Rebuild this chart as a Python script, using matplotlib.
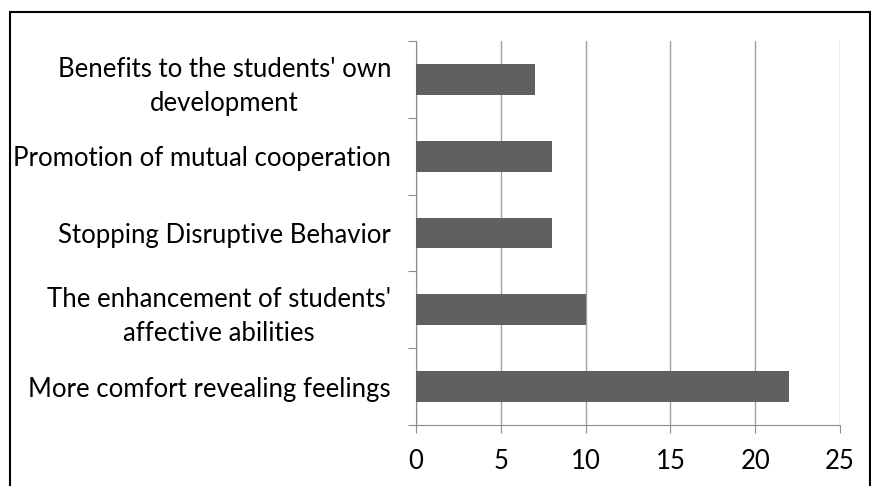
import matplotlib.pyplot as plt
from matplotlib.patches import Rectangle

categories = [
    "More comfort revealing feelings",
    "The enhancement of students'\naffective abilities",
    "Stopping Disruptive Behavior",
    "Promotion of mutual cooperation",
    "Benefits to the students' own\ndevelopment",
]
values = [22, 10, 8, 8, 7]
xticks = [0, 5, 10, 15, 20, 25]

plt.rcParams['font.family'] = ['Lato', 'DejaVu Sans']

fig = plt.figure(figsize=(8.71, 4.86), dpi=100)
ax = fig.add_axes([416 / 871, 61 / 486, 424 / 871, 384 / 486])

pos = range(len(categories))
ax.barh(pos, values, height=0.4, color='#606060', zorder=3)

ax.set_xlim(0, 25)
ax.set_ylim(-0.5, len(categories) - 0.5)
ax.set_xticks(xticks)
ax.set_xticklabels([str(t) for t in xticks], fontsize=18.5)
ax.set_yticks([p - 0.5 for p in pos] + [len(categories) - 0.5])
ax.set_yticklabels([])
ax.set_yticks(list(pos), minor=True)
ax.set_yticklabels(categories, minor=True, fontsize=18.5, multialignment='center',
                   linespacing=1.45)
ax.tick_params(axis='y', which='minor', length=0, pad=18)
ax.tick_params(axis='y', which='major', length=6, color='#8c8c8c')
ax.tick_params(axis='x', length=6, color='#8c8c8c', pad=11)

ax.grid(axis='x', color='#a0a0a0', linewidth=1, zorder=0)
for s in ['top', 'right']:
    ax.spines[s].set_visible(False)
ax.spines['left'].set_color('#8c8c8c')
ax.spines['bottom'].set_color('#8c8c8c')

fig.patches.append(Rectangle((9.5 / 871, -0.01), 860 / 871, (486 - 12.5) / 486 + 0.01,
                             transform=fig.transFigure, fill=False,
                             edgecolor='black', linewidth=1.5))

fig.savefig("out.png", dpi=100)
